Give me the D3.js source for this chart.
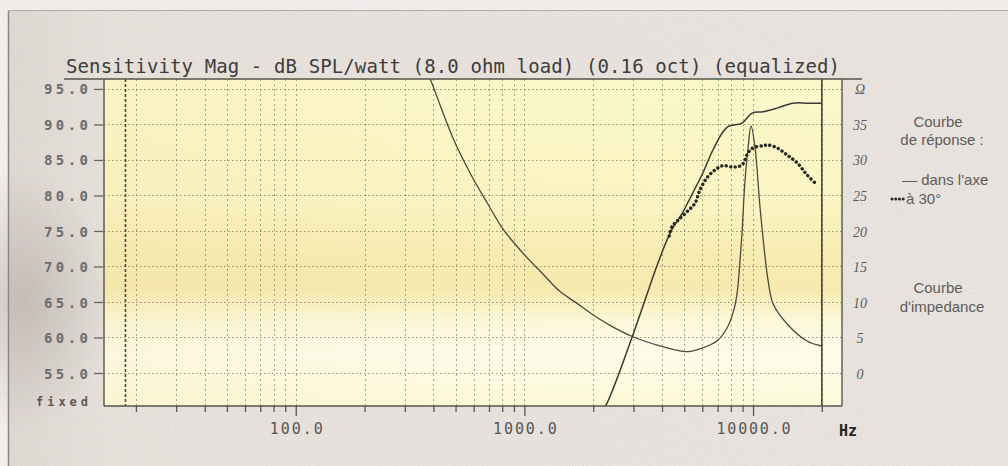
<!DOCTYPE html>
<html>
<head>
<meta charset="utf-8">
<script src="https://cdn.jsdelivr.net/npm/d3@7/dist/d3.min.js"></script>
<style>
  html, body { margin: 0; padding: 0; background: #f2f0ee; }
  svg { display: block; }
</style>
</head>
<body>
<svg id="chart" width="1008" height="466"></svg>
<script>
// ---- Data ----------------------------------------------------------------
const titleText = "Sensitivity Mag - dB SPL/watt (8.0 ohm load) (0.16 oct) (equalized)";

// Left axis (dB SPL) ticks and bottom decade labels
const dbTicks = [55, 60, 65, 70, 75, 80, 85, 90, 95];
const decadeLabels = [100, 1000, 10000];
// Right axis (impedance, ohms)
const ohmTicks = [0, 5, 10, 15, 20, 25, 30, 35];
// Cursor lines (Hz)
const cursorLow = 18;
const cursorHigh = 20000;

// Impedance curve (ohms)
const impFreq = [370, 394, 487, 589, 692, 805, 984, 1200, 1429, 1700, 1972, 2400, 2985, 3917, 4500, 5200, 5980, 6950, 7690, 8200, 8510, 8770, 8960, 9220, 9500, 9800, 10210, 10740, 11640, 12250, 14100, 17220, 20000];
const impOhm  = [43.0, 40.8, 33.1, 27.7, 23.8, 20.3, 16.9, 14.0, 11.5, 9.8, 8.3, 6.6, 5.1, 3.8, 3.3, 3.0, 3.5, 4.5, 6.3, 8.6, 11.1, 15.8, 20.0, 27.0, 31.5, 34.8, 31.7, 23.2, 13.0, 9.7, 6.9, 4.5, 3.8];

// Response on axis (dB SPL)
const axisFreq = [2150, 2275, 2985, 3840, 4340, 4940, 5460, 6040, 6680, 7690, 8950, 9900, 11070, 12740, 14960, 17220, 20000];
const axisDb   = [49.5, 50.5, 60.4, 70.5, 74.7, 77.7, 80.4, 83.2, 86.4, 89.6, 90.2, 91.6, 91.8, 92.3, 93.0, 93.0, 93.0];

// Response at 30 degrees (dB SPL)
const offFreq = [4300, 4420, 4698, 5140, 5572, 5861, 6293, 6823, 7391, 8171, 8951, 9508, 10000, 11066, 11640, 12740, 14090, 15590, 17220, 19070];
const offDb   = [74.3, 75.6, 76.5, 77.7, 78.9, 80.8, 82.5, 83.6, 84.2, 84.0, 84.3, 86.0, 86.7, 87.0, 87.1, 86.7, 85.7, 84.6, 82.9, 81.5];

// ---- Layout --------------------------------------------------------------
const W = 1008, H = 466;
const P = { left: 104, right: 842, top: 79, bottom: 406 };

const svg = d3.select("#chart");
const defs = svg.append("defs");

// paper grain
const grain = defs.append("filter").attr("id", "grain").attr("x", 0).attr("y", 0).attr("width", "100%").attr("height", "100%");
grain.append("feTurbulence").attr("type", "fractalNoise").attr("baseFrequency", 0.85).attr("numOctaves", 2).attr("seed", 4).attr("result", "n");
grain.append("feColorMatrix").attr("in", "n").attr("type", "matrix")
  .attr("values", "0 0 0 0 0.4  0 0 0 0 0.36  0 0 0 0 0.34  0 0 0 -1.1 0.72");

// paper tone
const paperGrad = defs.append("linearGradient").attr("id", "paper").attr("x1", 0).attr("y1", 0).attr("x2", 1).attr("y2", 0);
paperGrad.append("stop").attr("offset", 0).attr("stop-color", "#e0d9d4");
paperGrad.append("stop").attr("offset", 0.1).attr("stop-color", "#e9e3de");
paperGrad.append("stop").attr("offset", 1).attr("stop-color", "#ebe6e2");

const shade = defs.append("radialGradient").attr("id", "shade").attr("cx", 0.5).attr("cy", 0.5).attr("r", 0.5);
shade.append("stop").attr("offset", 0).attr("stop-color", "#a9a19b").attr("stop-opacity", 0.5);
shade.append("stop").attr("offset", 1).attr("stop-color", "#a9a19b").attr("stop-opacity", 0);

// plot fill
const plotGrad = defs.append("linearGradient").attr("id", "plotfill").attr("x1", 0).attr("y1", 0).attr("x2", 0).attr("y2", 1);
[[0, "#fcf8cd"], [0.38, "#fbf4c2"], [0.54, "#f7ecb2"], [0.64, "#f6eaae"], [0.74, "#fcf8da"], [0.84, "#fefdeb"], [1, "#fdfad9"]]
  .forEach(([o, c]) => plotGrad.append("stop").attr("offset", o).attr("stop-color", c));
const plotSide = defs.append("linearGradient").attr("id", "plotside").attr("x1", 0).attr("y1", 0).attr("x2", 1).attr("y2", 0);
plotSide.append("stop").attr("offset", 0).attr("stop-color", "#e9c98a").attr("stop-opacity", 0.12);
plotSide.append("stop").attr("offset", 0.45).attr("stop-color", "#e9c98a").attr("stop-opacity", 0.03);
plotSide.append("stop").attr("offset", 1).attr("stop-color", "#e9c98a").attr("stop-opacity", 0);

defs.append("clipPath").attr("id", "plotclip").append("rect")
  .attr("x", P.left).attr("y", P.top).attr("width", P.right - P.left).attr("height", P.bottom - P.top);

// background
svg.append("rect").attr("width", W).attr("height", H).attr("fill", "#f3f1ef");
svg.append("rect").attr("x", 8).attr("y", 10).attr("width", W - 8).attr("height", H - 10).attr("fill", "url(#paper)");
svg.append("ellipse").attr("cx", 25).attr("cy", 300).attr("rx", 90).attr("ry", 130).attr("fill", "url(#shade)");
svg.append("rect").attr("width", W).attr("height", H).attr("filter", "url(#grain)").attr("opacity", 0.3);
svg.append("line").attr("x1", 8.5).attr("x2", 8.5).attr("y1", 10).attr("y2", H).attr("stroke", "#8d8783").attr("stroke-width", 1.5);
svg.append("line").attr("x1", 8).attr("x2", W).attr("y1", 10.5).attr("y2", 10.5).attr("stroke", "#b0aaa6").attr("stroke-width", 1);

// ---- Scales --------------------------------------------------------------
const x = d3.scaleLog().domain([14.5, 24500]).range([P.left, P.right]);
const y = d3.scaleLinear().domain([50.35, 96.4]).range([P.bottom, P.top]);
const yOhm = d3.scaleLinear().domain([-4.65, 41.4]).range([P.bottom, P.top]);

// plot area
svg.append("rect").attr("x", P.left).attr("y", P.top).attr("width", P.right - P.left).attr("height", P.bottom - P.top).attr("fill", "url(#plotfill)");
svg.append("rect").attr("x", P.left).attr("y", P.top).attr("width", P.right - P.left).attr("height", P.bottom - P.top).attr("fill", "url(#plotside)");

// ---- Grid ----------------------------------------------------------------
const gridFreqs = x.ticks();
const grid = svg.append("g").attr("stroke", "#6f6c48").attr("fill", "none");
grid.selectAll("line.v").data(gridFreqs).join("line")
  .attr("x1", d => Math.round(x(d)) + 0.5).attr("x2", d => Math.round(x(d)) + 0.5)
  .attr("y1", P.top).attr("y2", P.bottom)
  .attr("stroke-width", 1).attr("stroke-dasharray", "2,3").attr("opacity", 0.6);
grid.selectAll("line.h").data(dbTicks).join("line")
  .attr("x1", P.left).attr("x2", P.right)
  .attr("y1", d => Math.round(y(d)) + 0.5).attr("y2", d => Math.round(y(d)) + 0.5)
  .attr("stroke-width", 1).attr("stroke-dasharray", "1.5,2.5").attr("opacity", 0.7);

// cursors
svg.append("line").attr("x1", x(cursorLow)).attr("x2", x(cursorLow)).attr("y1", P.top).attr("y2", P.bottom)
  .attr("stroke", "#4a4a3a").attr("stroke-width", 1.6).attr("stroke-dasharray", "3,2");
svg.append("line").attr("x1", x(cursorHigh)).attr("x2", x(cursorHigh)).attr("y1", P.top).attr("y2", P.bottom)
  .attr("stroke", "#3a3a30").attr("stroke-width", 1.5);

// ---- Curves --------------------------------------------------------------
const curves = svg.append("g").attr("clip-path", "url(#plotclip)").attr("fill", "none");

const impLine = d3.line().x(d => x(d[0])).y(d => yOhm(d[1])).curve(d3.curveCatmullRom.alpha(0.5));
curves.append("path").datum(d3.zip(impFreq, impOhm)).attr("d", impLine)
  .attr("stroke", "#4a4a40").attr("stroke-width", 1.3);

const dbLine = d3.line().x(d => x(d[0])).y(d => y(d[1])).curve(d3.curveCatmullRom.alpha(0.5));
curves.append("path").datum(d3.zip(axisFreq, axisDb)).attr("d", dbLine)
  .attr("stroke", "#3a3a32").attr("stroke-width", 1.5);
curves.append("path").datum(d3.zip(offFreq, offDb)).attr("d", dbLine)
  .attr("stroke", "#2a2a25").attr("stroke-width", 3.4).attr("stroke-linecap", "round")
  .attr("stroke-dasharray", "0.1,4.4");

// ---- Frame ---------------------------------------------------------------
const frame = svg.append("g").attr("stroke", "#55554a").attr("fill", "none").attr("stroke-width", 1.4);
frame.append("line").attr("x1", 64).attr("x2", 862).attr("y1", P.top).attr("y2", P.top);
frame.append("line").attr("x1", P.left).attr("x2", P.left).attr("y1", P.top).attr("y2", P.bottom);
frame.append("line").attr("x1", P.left).attr("x2", P.right).attr("y1", P.bottom).attr("y2", P.bottom);
frame.append("line").attr("x1", P.right).attr("x2", P.right).attr("y1", P.top).attr("y2", P.bottom);

// ---- Axes ----------------------------------------------------------------
const mono = "'DejaVu Sans Mono', 'Liberation Mono', monospace";

const yAxis = svg.append("g").attr("transform", `translate(${P.left - 1},0)`)
  .call(d3.axisLeft(y).tickValues(dbTicks).tickFormat(d3.format(".1f")).tickSize(9).tickPadding(6));
yAxis.select(".domain").remove();
yAxis.selectAll(".tick line").attr("stroke", "#666").attr("stroke-width", 1.3);
yAxis.selectAll(".tick text")
  .attr("font-family", mono).attr("font-size", 14).attr("font-weight", "bold")
  .attr("fill", "#6e6c6a").attr("dy", "0.36em").attr("textLength", 44).attr("lengthAdjust", "spacing");

svg.append("text").attr("x", 88).attr("y", 406).attr("text-anchor", "end")
  .attr("font-family", mono).attr("font-size", 12).attr("font-weight", "bold").attr("fill", "#5a5856")
  .attr("textLength", 52).attr("lengthAdjust", "spacing").text("fixed");

const isDecade = d => decadeLabels.includes(d);
const xAxis = svg.append("g").attr("transform", `translate(0,${P.bottom})`)
  .call(d3.axisBottom(x).tickValues(gridFreqs).tickSize(6)
    .tickFormat(d => isDecade(d) ? d3.format(".1f")(d) : ""));
xAxis.select(".domain").remove();
xAxis.selectAll(".tick line").attr("stroke", "#555").attr("stroke-width", 1.3)
  .attr("y2", d => isDecade(d) ? 10 : 6);
xAxis.selectAll(".tick text")
  .attr("font-family", mono).attr("font-size", 15).attr("fill", "#585654")
  .attr("y", 28).attr("dy", 0)
  .each(function (d) {
    if (isDecade(d)) {
      const n = d3.format(".1f")(d).length;
      d3.select(this).attr("textLength", n * 10.6).attr("lengthAdjust", "spacing");
    }
  });

svg.append("text").attr("x", 839).attr("y", 436)
  .attr("font-family", mono).attr("font-size", 15).attr("font-weight", "bold").attr("fill", "#222")
  .text("Hz");

// right impedance axis (hand-lettered style)
const rAxis = svg.append("g").attr("transform", `translate(${P.right},0)`)
  .call(d3.axisRight(yOhm).tickValues(ohmTicks).tickSize(0).tickFormat(d3.format("d")));
rAxis.select(".domain").remove();
rAxis.selectAll(".tick text")
  .attr("x", 18).attr("text-anchor", "middle").attr("dy", "0.36em")
  .attr("font-family", "'Liberation Serif', 'DejaVu Serif', serif").attr("font-style", "italic")
  .attr("font-size", 14).attr("fill", "#5c5a58");
svg.append("text").attr("x", 860).attr("y", y(95) + 5).attr("text-anchor", "middle")
  .attr("font-family", "'Liberation Serif', 'DejaVu Serif', serif").attr("font-style", "italic")
  .attr("font-size", 14).attr("fill", "#5c5a58").text("Ω");

// ---- Title ---------------------------------------------------------------
svg.append("text").attr("x", 66).attr("y", 73)
  .attr("font-family", mono).attr("font-size", 19).attr("fill", "#3d3c3a")
  .attr("textLength", 774).attr("lengthAdjust", "spacing")
  .text(titleText);

// ---- Legend --------------------------------------------------------------
const sans = "'Liberation Sans', Arial, sans-serif";
const legend = svg.append("g").attr("font-family", sans).attr("font-size", 15).attr("fill", "#5e5c5a");
legend.append("text").attr("x", 938).attr("y", 127).attr("text-anchor", "middle").text("Courbe");
legend.append("text").attr("x", 942).attr("y", 145).attr("text-anchor", "middle").text("de réponse :");
legend.append("text").attr("x", 902).attr("y", 185).text("— dans l'axe");
legend.append("path").attr("d", `M${892},${199}H${904}`)
  .attr("stroke", "#2a2a25").attr("stroke-width", 3).attr("stroke-linecap", "round")
  .attr("stroke-dasharray", "0.1,3.6").attr("fill", "none");
legend.append("text").attr("x", 906).attr("y", 204).text("à 30°");
legend.append("text").attr("x", 938).attr("y", 293).attr("text-anchor", "middle").text("Courbe");
legend.append("text").attr("x", 942).attr("y", 312).attr("text-anchor", "middle").text("d'impedance");
</script>
</body>
</html>
